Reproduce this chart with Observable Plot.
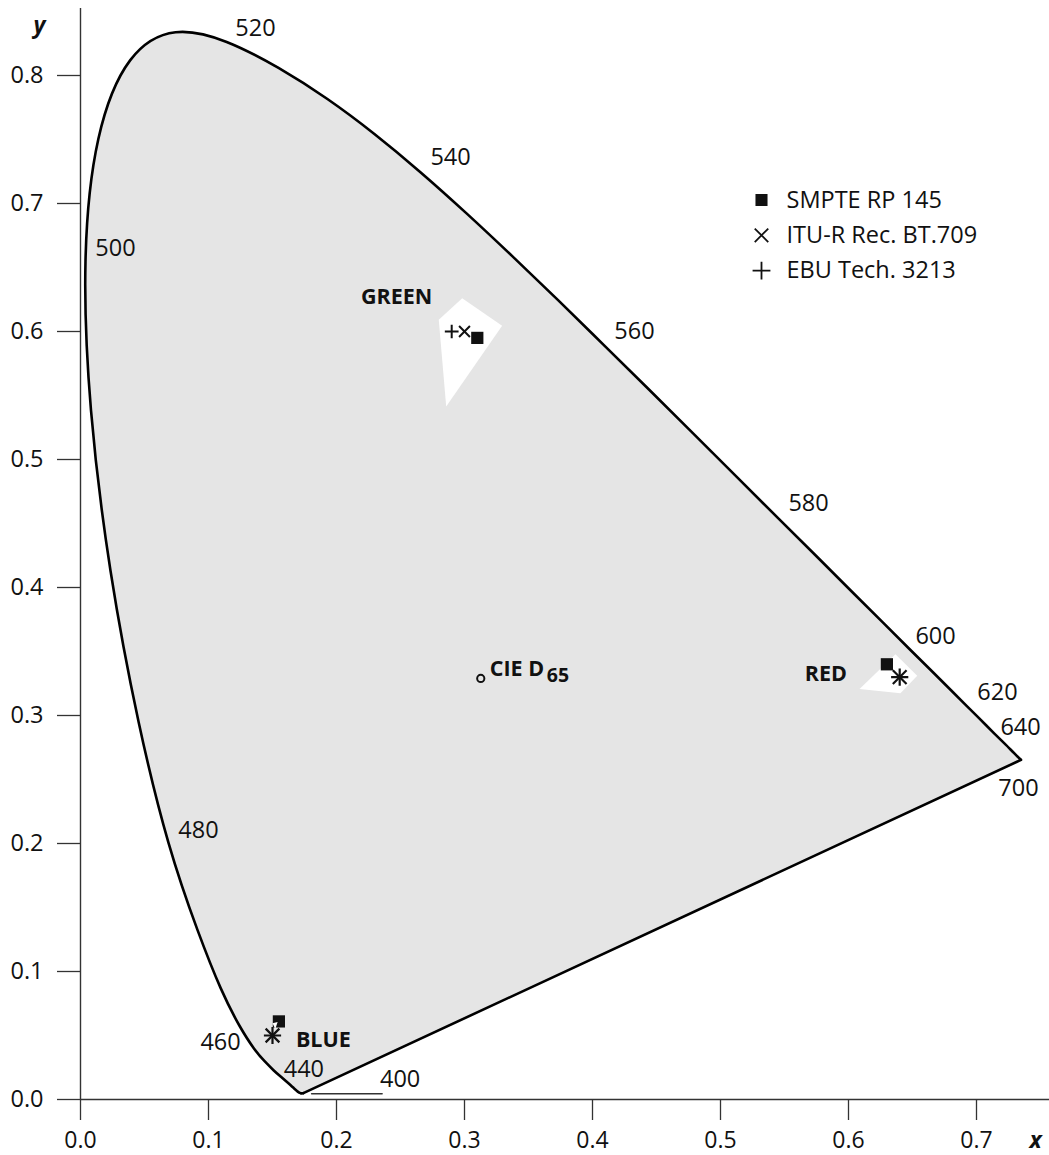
<!DOCTYPE html>
<html><head><meta charset="utf-8">
<script src="https://cdn.jsdelivr.net/npm/d3@7"></script>
<script src="https://cdn.jsdelivr.net/npm/@observablehq/plot@0.6"></script>
<style>body{margin:0;background:#fff} svg{display:block}</style>
</head><body><div id="chart"></div>
<script>
// CIE 1931 spectral locus (wavelength nm, chromaticity x, y)
const wavelengths = [380,385,390,395,400,405,410,415,420,425,430,435,440,445,450,455,460,465,470,475,480,485,490,495,500,505,510,515,520,525,530,535,540,545,550,555,560,565,570,575,580,585,590,595,600,605,610,615,620,625,630,635,640,645,650,655,660,665,670,675,680,685,690,695,700];
const locusX = [0.1741,0.1740,0.1738,0.1736,0.1733,0.1730,0.1726,0.1721,0.1714,0.1703,0.1689,0.1669,0.1644,0.1611,0.1566,0.1510,0.1440,0.1355,0.1241,0.1096,0.0913,0.0687,0.0454,0.0235,0.0082,0.0039,0.0139,0.0389,0.0743,0.1142,0.1547,0.1929,0.2296,0.2658,0.3016,0.3373,0.3731,0.4087,0.4441,0.4788,0.5125,0.5448,0.5752,0.6029,0.6270,0.6482,0.6658,0.6801,0.6915,0.7006,0.7079,0.7140,0.7190,0.7230,0.7260,0.7283,0.7300,0.7311,0.7320,0.7327,0.7334,0.7340,0.7344,0.7346,0.7347];
const locusY = [0.0050,0.0050,0.0049,0.0049,0.0048,0.0048,0.0048,0.0048,0.0051,0.0058,0.0069,0.0086,0.0109,0.0138,0.0177,0.0227,0.0297,0.0399,0.0578,0.0868,0.1327,0.2007,0.2950,0.4127,0.5384,0.6548,0.7502,0.8120,0.8338,0.8262,0.8059,0.7816,0.7543,0.7243,0.6923,0.6589,0.6245,0.5896,0.5547,0.5202,0.4866,0.4544,0.4242,0.3965,0.3725,0.3514,0.3340,0.3197,0.3083,0.2993,0.2920,0.2859,0.2809,0.2770,0.2740,0.2717,0.2700,0.2689,0.2680,0.2673,0.2666,0.2660,0.2656,0.2654,0.2653];

// Wavelength annotations (text, label x, label y)
const wlText = ["520","540","560","580","600","620","640","700","500","480","460","440","400"];
const wlLabX = [0.1367,0.2891,0.4328,0.5688,0.6680,0.7164,0.7344,0.7328,0.0273,0.0922,0.1094,0.1745,0.2497];
const wlLabY = [0.8367,0.7359,0.6000,0.4656,0.3617,0.3180,0.2906,0.2430,0.6651,0.2102,0.0448,0.0232,0.0156];
// leader line for 400 nm
const leaderX = [0.1805, 0.2357];
const leaderY = [0.0045, 0.0045];

// Primaries (GREEN, RED, BLUE)
const primaryNames = ["GREEN","RED","BLUE"];
const smpteX = [0.310, 0.630, 0.155];
const smpteY = [0.595, 0.340, 0.061];
const ituX = [0.300, 0.640, 0.150];
const ituY = [0.600, 0.330, 0.050];
const ebuX = [0.290, 0.640, 0.150];
const ebuY = [0.600, 0.330, 0.050];
const primLabX = [0.2469, 0.5823, 0.1897];
const primLabY = [0.6265, 0.3322, 0.0466];

// White tolerance regions (vertices)
const greenRegX = [0.2982,0.3294,0.2857,0.2799];
const greenRegY = [0.6260,0.6044,0.5414,0.6091];
const redRegX = [0.6367,0.6537,0.6406,0.6086];
const redRegY = [0.3479,0.3310,0.3174,0.3208];
const blueRegX = [0.1500,0.1540,0.1522];
const blueRegY = [0.0596,0.0606,0.0550];

// White point
const d65 = {x: 0.3127, y: 0.3290};

// Legend
const legendNames = ["SMPTE RP 145","ITU-R Rec. BT.709","EBU Tech. 3213"];

const xTicks = [0,0.1,0.2,0.3,0.4,0.5,0.6,0.7];
const yTicks = [0,0.1,0.2,0.3,0.4,0.5,0.6,0.7,0.8];

// ---- build tables ----
const locus = wavelengths.map((w,i)=>({w, x: locusX[i], y: locusY[i]}));
const purple = [locus[locus.length - 1], locus[0]];
const poly = (xs, ys) => xs.map((x,i)=>({x, y: ys[i]}));
const wl = wlText.map((t,i)=>({t, x: wlLabX[i], y: wlLabY[i]}));
const leader = leaderX.map((x,i)=>({x, y: leaderY[i]}));
const smpte = smpteX.map((x,i)=>({x, y: smpteY[i]}));
const itu = ituX.map((x,i)=>({x, y: ituY[i]}));
const ebu = ebuX.map((x,i)=>({x, y: ebuY[i]}));
const primLab = primaryNames.map((t,i)=>({t, x: primLabX[i], y: primLabY[i]}));

const W = 1049, H = 1155, mL = 80, mR = 0, mT = 8, mB = 56;
const k = 1280; // px per unit (equal aspect)
const ink = "#111";
const font = "'Open Sans', 'Noto Sans', sans-serif";
const fsReg = 23.5, fsBold = 21.5;

const legendSymbols = [
  {symbol: "square", r: 6.8, fill: ink, stroke: "none", strokeWidth: 0},
  {symbol: "times", r: 6.2, fill: "none", stroke: ink, strokeWidth: 1.8},
  {symbol: "plus", r: 5.8, fill: "none", stroke: ink, strokeWidth: 1.8}
];
const legendMarks = legendNames.flatMap((name, i) => [
  Plot.dot([0], {frameAnchor: "top-left", dx: 681, dy: 191.5 + i*35.3, ...legendSymbols[i]}),
  Plot.text([name], {frameAnchor: "top-left", dx: 706, dy: 191.5 + i*35.3, text: d => d, textAnchor: "start", lineAnchor: "middle", fontSize: fsReg, fill: ink})
]);

const chart = Plot.plot({
  width: W, height: H,
  marginLeft: mL, marginRight: mR, marginTop: mT, marginBottom: mB,
  style: {fontFamily: font, fontSize: "22px", color: ink, background: "#fff"},
  x: {domain: [0, (W - mL - mR)/k], axis: null},
  y: {domain: [0, (H - mT - mB)/k], axis: null},
  marks: [
    Plot.line(locus, {x: "x", y: "y", fill: "#e5e5e5", stroke: "#000", strokeWidth: 2.6, curve: "natural"}),
    Plot.line(purple, {x: "x", y: "y", stroke: "#000", strokeWidth: 2.6}),
    Plot.line(poly(greenRegX, greenRegY), {x: "x", y: "y", fill: "#fff", stroke: "none"}),
    Plot.line(poly(redRegX, redRegY), {x: "x", y: "y", fill: "#fff", stroke: "none"}),
    Plot.line(leader, {x: "x", y: "y", stroke: "#333", strokeWidth: 1.3}),
    Plot.text(wl, {x: "x", y: "y", text: "t", fontSize: fsReg, fill: ink}),
    Plot.text(primLab, {x: "x", y: "y", text: "t", fontSize: fsBold, fontWeight: "bold", fill: ink}),
    Plot.dot([d65], {x: "x", y: "y", r: 3.6, stroke: ink, strokeWidth: 2, fill: "none"}),
    Plot.text([d65], {x: "x", y: "y", text: () => "CIE D", dx: 9, dy: -9, textAnchor: "start", fontWeight: "bold", fontSize: fsBold, fill: ink}),
    Plot.text([d65], {x: "x", y: "y", text: () => "65", dx: 66, dy: -3, textAnchor: "start", fontWeight: "bold", fontSize: 19.5, fill: ink}),
    Plot.dot(smpte, {x: "x", y: "y", symbol: "square", r: 6.9, fill: ink}),
    Plot.line(poly(blueRegX, blueRegY), {x: "x", y: "y", fill: "#fff", stroke: "none"}),
    Plot.dot(itu.slice(0, 1), {x: "x", y: "y", symbol: "times", r: 5, stroke: ink, strokeWidth: 2}),
    Plot.dot(ebu.slice(0, 1), {x: "x", y: "y", symbol: "plus", r: 4.5, stroke: ink, strokeWidth: 2}),
    Plot.dot(itu.slice(1), {x: "x", y: "y", symbol: "times", r: 6.3, stroke: ink, strokeWidth: 2.2}),
    Plot.dot(ebu.slice(1), {x: "x", y: "y", symbol: "plus", r: 5.6, stroke: ink, strokeWidth: 2.2}),
    ...legendMarks,
    Plot.ruleX([0], {stroke: "#333", strokeWidth: 1.4}),
    Plot.ruleY([0], {stroke: "#333", strokeWidth: 1.4}),
    Plot.axisX(xTicks, {tickSize: 21, tickPadding: 11, tickFormat: d3.format(".1f"), fontSize: 23, stroke: "#333", strokeWidth: 1.3, fill: ink, label: null}),
    Plot.axisY(yTicks, {tickSize: 23, tickPadding: 14, tickFormat: d3.format(".1f"), fontSize: fsReg, stroke: "#333", strokeWidth: 1.3, fill: ink, label: null}),
    Plot.text(["y"], {frameAnchor: "top-left", dx: -41, dy: 17, text: d => d, textAnchor: "middle", lineAnchor: "middle", fontSize: 23, fontWeight: "bold", fontStyle: "italic", fill: ink}),
    Plot.text(["x"], {frameAnchor: "bottom-right", dx: -14, dy: 41, text: d => d, textAnchor: "middle", lineAnchor: "middle", fontSize: 23, fontWeight: "bold", fontStyle: "italic", fill: ink})
  ]
});
document.getElementById("chart").appendChild(chart);
</script>
</body></html>
